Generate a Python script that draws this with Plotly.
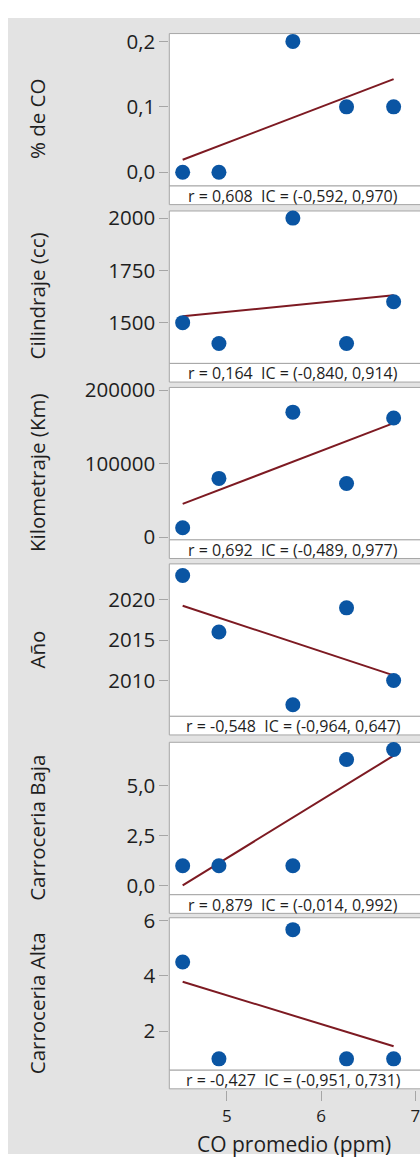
import numpy as np
import plotly.graph_objects as go

# ---------------- data ----------------
co_promedio = [4.53, 4.915, 5.70, 6.27, 6.77]
pct_co = [0.0, 0.0, 0.2, 0.1, 0.1]
cilindraje = [1500, 1400, 2000, 1400, 1600]
kilometraje = [13000, 80000, 170000, 73000, 162000]
anio = [2023, 2016, 2007, 2019, 2010]
carroceria_baja = [1, 1, 1, 6.3, 6.8]
carroceria_alta = [4.5, 1, 5.67, 1, 1]

y_titles = ["% de CO", "Cilindraje (cc)", "Kilometraje (Km)", "Año",
            "Carroceria Baja", "Carroceria Alta"]
r_texts = ["r = 0,608  IC = (-0,592, 0,970)",
           "r = 0,164  IC = (-0,840, 0,914)",
           "r = 0,692  IC = (-0,489, 0,977)",
           "r = -0,548  IC = (-0,964, 0,647)",
           "r = 0,879  IC = (-0,014, 0,992)",
           "r = -0,427  IC = (-0,951, 0,731)"]
y_tickvals = [[0.0, 0.1, 0.2], [1500, 1750, 2000], [0, 100000, 200000],
              [2010, 2015, 2020], [0.0, 2.5, 5.0], [2, 4, 6]]
y_ticktext = [["0,0", "0,1", "0,2"], ["1500", "1750", "2000"],
              ["0", "100000", "200000"], ["2010", "2015", "2020"],
              ["0,0", "2,5", "5,0"], ["2", "4", "6"]]
x_tickvals = [5, 6, 7]
x_ticktext = ["5", "6", "7"]
x_title = "CO promedio (ppm)"

series = [pct_co, cilindraje, kilometraje, anio, carroceria_baja, carroceria_alta]

# ---------------- layout geometry (pixels) ----------------
W, H = 420, 1165
y_ranges = [[-0.021, 0.212], [1305, 2034], [-3500, 203600],
            [2005.57, 2024.44], [-0.45, 7.16], [0.59, 6.10]]
x_range = [4.388, 7.05]
panel_tops = [22, 203, 383, 563, 745, 924]
plot_h = 155.5
strip_h = 19
left_px = 169.3

def px_x(p):
    return p / W

def px_y(p):
    return 1 - p / H

FONT = "Open Sans, Noto Sans, DejaVu Sans, sans-serif"
TXT = "#1e1e1e"
FRAME = "#a6a6a6"
BLUE = "#0a55a3"
RED = "#7d1a22"

fig = go.Figure()
shapes = [dict(type="rect", xref="paper", yref="paper", x0=px_x(8), x1=1.0,
               y0=0, y1=px_y(6), fillcolor="#e3e3e3", line=dict(width=0),
               layer="below")]
annotations = []
layout = dict()

for i, ys in enumerate(series):
    k = i + 1
    xa = "x" if k == 1 else f"x{k}"
    ya = "y" if k == 1 else f"y{k}"
    top = panel_tops[i]
    bot = top + plot_h
    sbot = bot + strip_h

    # regression line
    slope, inter = np.polyfit(co_promedio, ys, 1)
    xl = [min(co_promedio), max(co_promedio)]
    fig.add_trace(go.Scatter(x=xl, y=[inter + slope * v for v in xl], mode="lines",
                             line=dict(color=RED, width=2), xaxis=xa, yaxis=ya,
                             showlegend=False, hoverinfo="skip"))
    fig.add_trace(go.Scatter(x=co_promedio, y=ys, mode="markers",
                             marker=dict(color=BLUE, size=15, line=dict(width=0)),
                             xaxis=xa, yaxis=ya, showlegend=False, cliponaxis=False))

    # frames
    shapes.append(dict(type="rect", xref="paper", yref="paper",
                       x0=px_x(left_px), x1=1.05, y0=px_y(bot), y1=px_y(top),
                       fillcolor="white", line=dict(color=FRAME, width=1), layer="below"))
    shapes.append(dict(type="rect", xref="paper", yref="paper",
                       x0=px_x(left_px), x1=1.05, y0=px_y(sbot), y1=px_y(bot),
                       fillcolor="white", line=dict(color=FRAME, width=1), layer="below"))

    annotations.append(dict(text=r_texts[i].replace("  ", "\u00a0 "), xref="paper", yref="paper",
                            x=px_x(293), y=px_y(bot + strip_h / 2 + 0.5),
                            xanchor="center", yanchor="middle", showarrow=False,
                            font=dict(family=FONT, size=16, color=TXT)))
    annotations.append(dict(text=y_titles[i], xref="paper", yref="paper",
                            x=px_x(37), y=px_y((top + sbot) / 2),
                            xanchor="center", yanchor="middle", textangle=-90,
                            showarrow=False, font=dict(family=FONT, size=20.5, color=TXT)))

    xaxis = dict(domain=[px_x(left_px), 1.0], range=x_range, anchor=ya,
                 showgrid=False, zeroline=False, showline=False,
                 showticklabels=False, ticks="")
    if k == 6:
        xaxis.update(anchor="free", position=px_y(1100), ticks="outside", ticklen=10,
                     tickcolor=FRAME, tickwidth=1, showticklabels=True,
                     ticklabeloverflow="allow",
                     tickvals=x_tickvals, ticktext=x_ticktext,
                     tickfont=dict(family=FONT, size=17, color=TXT))
    else:
        xaxis.update(matches="x6")
    layout["xaxis" if k == 1 else f"xaxis{k}"] = xaxis
    layout["yaxis" if k == 1 else f"yaxis{k}"] = dict(
        domain=[px_y(bot), px_y(top)], range=y_ranges[i], anchor=xa,
        showgrid=False, zeroline=False, showline=False,
        ticks="outside", ticklen=9, tickcolor=FRAME, tickwidth=1,
        tickvals=y_tickvals[i], ticktext=y_ticktext[i],
        tickfont=dict(family=FONT, size=20.5, color=TXT))

annotations.append(dict(text=x_title, xref="paper", yref="paper",
                        x=px_x(294), y=px_y(1155), xanchor="center", yanchor="middle",
                        showarrow=False, font=dict(family=FONT, size=21, color=TXT)))

fig.update_layout(**layout)
fig.update_layout(width=W, height=H, margin=dict(l=0, r=0, t=0, b=0),
                  paper_bgcolor="white", plot_bgcolor="rgba(0,0,0,0)",
                  shapes=shapes, annotations=annotations, showlegend=False,
                  font=dict(family=FONT, color=TXT))

fig.write_html("out.html", config={"displayModeBar": False},
               post_script="document.body.style.margin='0px';")
